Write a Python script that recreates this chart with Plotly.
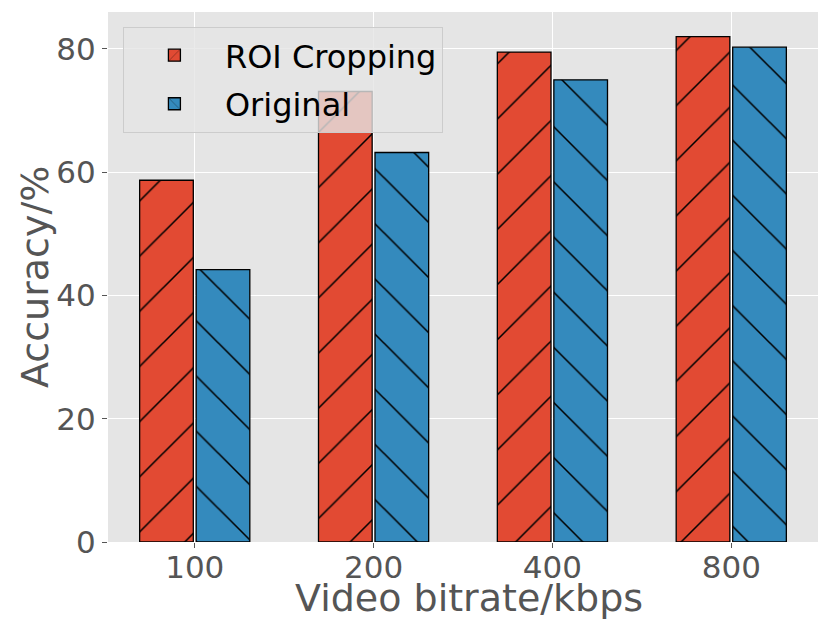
import plotly.graph_objects as go

# data
bitrates = ["100", "200", "400", "800"]
roi_cropping = [58.7, 73.1, 79.5, 82.0]
original = [44.2, 63.2, 75.0, 80.3]

red = "#E24A33"
blue = "#348ABD"
font_family = "DejaVu Sans"
axis_color = "#555555"

fig = go.Figure()

fig.add_trace(
    go.Bar(
        x=bitrates,
        y=roi_cropping,
        name="ROI Cropping",
        legendgroup="roi",
        width=0.3,
        offset=-0.308,
        marker=dict(
            color=red,
            line=dict(color="black", width=1.3),
            pattern=dict(shape="/", size=39, solidity=0.04,
                         fgcolor="black", bgcolor=red, fillmode="replace"),
        ),
    )
)

fig.add_trace(
    go.Bar(
        x=bitrates,
        y=original,
        name="Original",
        legendgroup="orig",
        width=0.3,
        offset=0.008,
        marker=dict(
            color=blue,
            line=dict(color="black", width=1.3),
            pattern=dict(shape="\\", size=39, solidity=0.04,
                         fgcolor="black", bgcolor=blue, fillmode="replace"),
        ),
    )
)

# the page body has an 8px margin, so the figure is 8px smaller on each side
fig.update_layout(
    width=823,
    height=620,
    margin=dict(l=100, r=13, t=4, b=86),
    paper_bgcolor="white",
    plot_bgcolor="#E5E5E5",
    barmode="overlay",
    font=dict(family=font_family, color=axis_color),
    showlegend=True,
    legend=dict(
        x=0.021,
        y=0.972,
        xanchor="left",
        yanchor="top",
        bgcolor="rgba(229,229,229,0.8)",
        bordercolor="#CCCCCC",
        borderwidth=1,
        font=dict(size=32, color="black", family=font_family),
        itemwidth=91,
        tracegroupgap=4,
    ),
    annotations=[
        dict(text="Video bitrate/kbps", xref="paper", yref="paper",
             x=0.5, y=0, xanchor="center", yanchor="middle", yshift=-56, xshift=6,
             showarrow=False, font=dict(size=38, color=axis_color)),
        dict(text="Accuracy/%", xref="paper", yref="paper",
             x=0, y=0.5, xanchor="center", yanchor="middle", xshift=-73,
             textangle=-90, showarrow=False, font=dict(size=38, color=axis_color)),
    ],
)

fig.update_xaxes(
    type="category",
    range=[-0.485, 3.485],
    automargin=False,
    showgrid=True,
    gridcolor="white",
    gridwidth=1,
    ticks="outside",
    ticklen=5,
    tickcolor=axis_color,
    tickfont=dict(size=31, color=axis_color),
    ticklabelstandoff=-7,
    zeroline=False,
)

fig.update_yaxes(
    range=[0, 86],
    tickvals=[0, 20, 40, 60, 80],
    automargin=False,
    showgrid=True,
    gridcolor="white",
    gridwidth=1,
    ticks="outside",
    ticklen=5,
    tickcolor=axis_color,
    tickfont=dict(size=31, color=axis_color),
    zeroline=False,
)

fig.write_html("out.html")
